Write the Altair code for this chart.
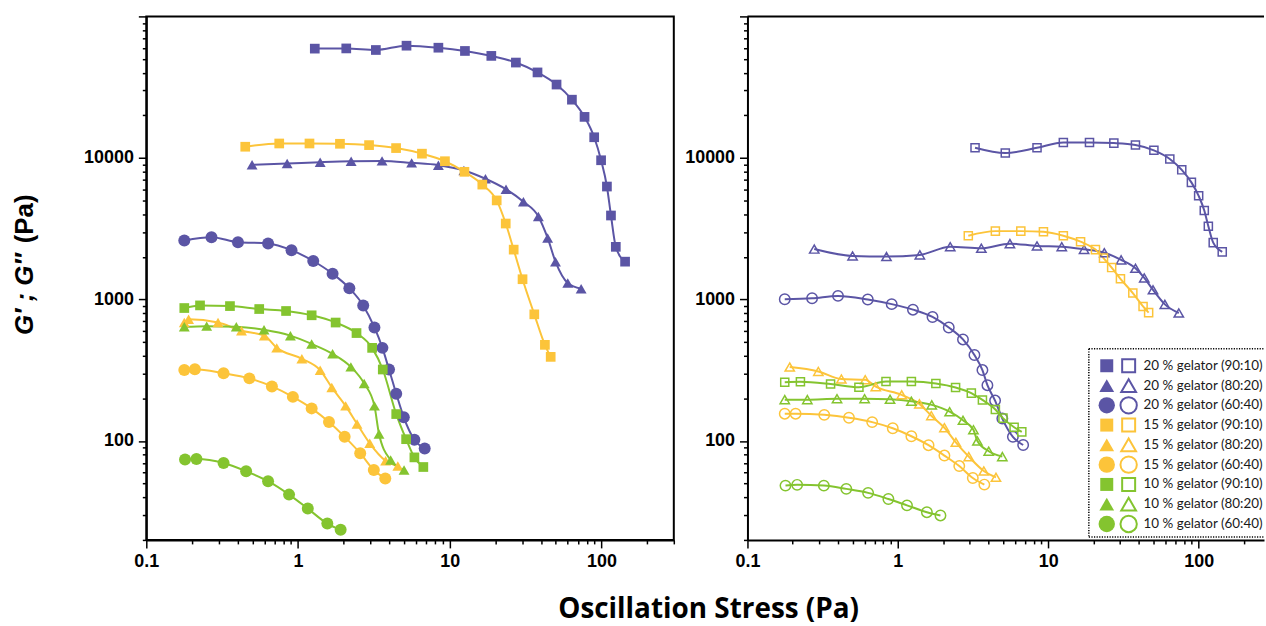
import altair as alt
import pandas as pd

# ---------------- data (stress in Pa, modulus in Pa) ----------------
CONCS = ["20", "15", "10"]
RATIOS = ["90:10", "80:20", "60:40"]
COLORS = ["#5b55a5", "#fcc43a", "#84c42f"]
SHAPES = ["square", "triangle-up", "circle"]

# Left panel (G', filled symbols)
L20_9010_x = [1.29, 2.08, 3.26, 5.19, 8.42, 12.6, 18.8, 27.3, 37.9, 50.6, 63.9, 77.4, 89.6, 99.5, 108.7, 115.6, 124.4, 143.2]
L20_9010_y = [59200, 59400, 57900, 62100, 60100, 57000, 52600, 47200, 40200, 33000, 25800, 19500, 14000, 9630, 6280, 3920, 2355, 1850]
L20_8020_x = [0.498, 0.848, 1.40, 2.24, 3.58, 5.61, 8.42, 12.4, 17.2, 23.5, 30.6, 38.4, 44.2, 49.8, 60.0, 73.5]
L20_8020_y = [8940, 9130, 9330, 9480, 9530, 9230, 8890, 8160, 7130, 6010, 4910, 3860, 2720, 1850, 1306, 1190]
L20_6040_x = [0.178, 0.269, 0.402, 0.635, 0.906, 1.26, 1.69, 2.18, 2.69, 3.19, 3.60, 3.98, 4.44, 4.98, 5.85, 6.84]
L20_6040_y = [2610, 2750, 2540, 2490, 2230, 1870, 1520, 1200, 908, 634, 455, 320, 216, 147, 102, 88.5]
L15_9010_x = [0.449, 0.752, 1.19, 1.89, 2.94, 4.43, 6.56, 9.30, 12.5, 16.4, 20.4, 23.4, 26.4, 30.2, 36.1, 42.4, 46.3]
L15_9010_y = [12000, 12650, 12650, 12590, 12320, 11740, 10720, 9480, 7980, 6480, 5010, 3440, 2250, 1390, 785, 478, 393]
L15_8020_x = [0.178, 0.19, 0.297, 0.424, 0.60, 0.724, 1.06, 1.40, 1.67, 2.06, 2.45, 2.97, 3.78, 4.55]
L15_8020_y = [687, 724, 687, 601, 555, 455, 381, 316, 239, 177, 132, 96.3, 72.5, 66.5]
L15_6040_x = [0.178, 0.209, 0.323, 0.478, 0.673, 0.925, 1.23, 1.60, 2.03, 2.57, 3.16, 3.76]
L15_6040_y = [318, 321, 301, 277, 243, 205, 170, 136, 107, 82, 62.4, 54.3]
L10_9010_x = [0.178, 0.226, 0.356, 0.555, 0.834, 1.23, 1.77, 2.43, 3.08, 3.62, 4.44, 5.16, 5.85, 6.70]
L10_9010_y = [870, 908, 898, 856, 829, 773, 687, 579, 455, 320, 155, 103, 76.6, 65.5]
L10_8020_x = [0.178, 0.25, 0.392, 0.597, 0.891, 1.23, 1.69, 2.23, 2.73, 3.19, 3.42, 4.08, 5.0]
L10_8020_y = [641, 648, 641, 611, 555, 485, 413, 334, 255, 177, 112, 73.3, 62.4]
L10_6040_x = [0.180, 0.214, 0.323, 0.455, 0.635, 0.873, 1.16, 1.56, 1.91]
L10_6040_y = [74.1, 74.5, 69.9, 61.1, 52.0, 41.8, 33.3, 26.1, 23.6]

# Right panel (G'', open symbols)
R20_9010_x = [3.26, 5.18, 8.42, 12.6, 18.8, 27.3, 38.0, 50.4, 64.3, 77.2, 89.5, 100, 109, 116, 125, 143.5]
R20_9010_y = [11800, 10830, 11800, 12870, 12870, 12730, 12330, 11320, 9840, 8240, 6720, 5400, 4250, 3290, 2520, 2170]
R20_8020_x = [0.278, 0.50, 0.84, 1.40, 2.23, 3.59, 5.56, 8.42, 12.3, 17.3, 23.6, 30.5, 38.0, 43.5, 49.7, 59.6, 73.8]
R20_8020_y = [2270, 2030, 2010, 2065, 2360, 2300, 2480, 2390, 2360, 2260, 2140, 1905, 1660, 1420, 1170, 923, 802]
R20_6040_x = [0.177, 0.269, 0.40, 0.631, 0.91, 1.26, 1.70, 2.18, 2.71, 3.23, 3.65, 3.94, 4.43, 4.95, 5.82, 6.81]
R20_6040_y = [1004, 1020, 1060, 1000, 927, 847, 752, 634, 522, 405, 317, 248, 193, 144, 107, 93.7]
R15_9010_x = [2.94, 4.45, 6.57, 9.29, 12.6, 16.4, 20.6, 23.3, 26.4, 30.2, 36.5, 42.7, 46.5]
R15_9010_y = [2820, 3040, 3040, 3010, 2820, 2560, 2250, 1960, 1680, 1400, 1110, 893, 807]
R15_8020_x = [0.191, 0.296, 0.421, 0.607, 0.713, 1.06, 1.39, 1.67, 2.04, 2.43, 2.96, 3.73, 4.49]
R15_8020_y = [333, 310, 274, 271, 242, 212, 183, 151, 124, 97.9, 77.6, 61.4, 55.4]
R15_6040_x = [0.177, 0.209, 0.324, 0.473, 0.675, 0.925, 1.23, 1.60, 2.04, 2.56, 3.15, 3.76]
R15_6040_y = [156, 156, 153, 146, 136, 123, 108, 93.4, 78.9, 66.5, 54.8, 49.2]
R10_9010_x = [0.177, 0.225, 0.357, 0.551, 0.834, 1.23, 1.79, 2.42, 3.08, 3.65, 4.45, 5.0, 5.93, 6.67]
R10_9010_y = [260, 262, 253, 240, 263, 263, 255, 239, 218, 195, 167, 145, 125, 116]
R10_8020_x = [0.177, 0.25, 0.394, 0.601, 0.887, 1.23, 1.68, 2.21, 2.71, 3.18, 3.38, 4.02, 4.95]
R10_8020_y = [196, 196, 199, 199, 197, 191, 180, 161, 140, 120, 100, 84.7, 77.6]
R10_6040_x = [0.179, 0.214, 0.322, 0.454, 0.634, 0.865, 1.15, 1.56, 1.92]
R10_6040_y = [48.4, 49.0, 48.4, 45.9, 43.0, 38.9, 35.1, 31.4, 29.8]

X_TICKS_L = [0.1, 0.2, 0.3, 0.4, 0.5, 0.6, 0.7, 0.8, 0.9, 1, 2, 3, 4, 5, 6, 7, 8, 9,
             10, 20, 30, 40, 50, 60, 70, 80, 90, 100, 200, 300]
X_TICKS_R = [0.1, 0.2, 0.3, 0.4, 0.5, 0.6, 0.7, 0.8, 0.9, 1, 2, 3, 4, 5, 6, 7, 8, 9,
             10, 20, 30, 40, 50, 60, 70, 80, 90, 100, 200]
Y_TICKS = [20, 30, 40, 50, 60, 70, 80, 90, 100, 200, 300, 400, 500, 600, 700, 800, 900,
           1000, 2000, 3000, 4000, 5000, 6000, 7000, 8000, 9000,
           10000, 20000, 30000, 40000, 50000, 60000, 70000, 80000, 90000, 100000]

LEFT = {
    ("20", "90:10"): (L20_9010_x, L20_9010_y), ("20", "80:20"): (L20_8020_x, L20_8020_y),
    ("20", "60:40"): (L20_6040_x, L20_6040_y), ("15", "90:10"): (L15_9010_x, L15_9010_y),
    ("15", "80:20"): (L15_8020_x, L15_8020_y), ("15", "60:40"): (L15_6040_x, L15_6040_y),
    ("10", "90:10"): (L10_9010_x, L10_9010_y), ("10", "80:20"): (L10_8020_x, L10_8020_y),
    ("10", "60:40"): (L10_6040_x, L10_6040_y),
}
RIGHT = {
    ("20", "90:10"): (R20_9010_x, R20_9010_y), ("20", "80:20"): (R20_8020_x, R20_8020_y),
    ("20", "60:40"): (R20_6040_x, R20_6040_y), ("15", "90:10"): (R15_9010_x, R15_9010_y),
    ("15", "80:20"): (R15_8020_x, R15_8020_y), ("15", "60:40"): (R15_6040_x, R15_6040_y),
    ("10", "90:10"): (R10_9010_x, R10_9010_y), ("10", "80:20"): (R10_8020_x, R10_8020_y),
    ("10", "60:40"): (R10_6040_x, R10_6040_y),
}


def to_df(d):
    rows = []
    for (c, r), (xs, ys) in d.items():
        for xv, yv in zip(xs, ys):
            rows.append({"x": xv, "y": yv, "conc": c, "ratio": r,
                         "series": f"{c} % gelator ({r})"})
    return pd.DataFrame(rows)


df_l = to_df(LEFT)
df_r = to_df(RIGHT)
leg = pd.DataFrame([{"idx": i * 3 + j, "conc": c, "ratio": r,
                     "label": f"{c} % gelator ({r})"}
                    for i, c in enumerate(CONCS) for j, r in enumerate(RATIOS)])
one = pd.DataFrame({"k": [0]})

# ---------------- layout constants ----------------
LW, RW, H = 530, 519, 526
MAJ = "abs(log(datum.value)/LN10 - round(log(datum.value)/LN10)) < 0.001"
TS = {"condition": {"test": MAJ, "value": 8}, "value": 4}


def x_enc(ticks, dmax):
    return alt.X("x:Q", scale=alt.Scale(type="log", domain=[0.1, dmax], nice=False),
                 axis=alt.Axis(values=ticks, format="~g", title=None,
                               labelExpr=f"({MAJ}) ? datum.label : ''",
                               tickSize=TS, labelFlush=False, labelOverlap=False))


Y_ENC = alt.Y("y:Q", scale=alt.Scale(type="log", domain=[20, 100000], nice=False),
              axis=alt.Axis(values=Y_TICKS, format="~g", title=None,
                            labelExpr=f"({MAJ}) && datum.value < 50000 ? datum.label : ''",
                            tickSize=TS, labelFlush=False, labelOverlap=False))
COLOR = alt.Color("conc:N", scale=alt.Scale(domain=CONCS, range=COLORS), legend=None)
SHAPE = alt.Shape("ratio:N", scale=alt.Scale(domain=RATIOS, range=SHAPES), legend=None)


def panel_layers(df, ticks, dmax, filled, sizes):
    X = x_enc(ticks, dmax)
    lines = alt.Chart(df).mark_line(strokeWidth=2, interpolate="monotone").encode(
        x=X, y=Y_ENC, color=COLOR, detail="series:N")
    if filled:
        pm = alt.Chart(df).mark_point(filled=True, opacity=1)
    else:
        pm = alt.Chart(df).mark_point(filled=False, opacity=1, strokeWidth=1.5)
    pts = pm.encode(
        x=X, y=Y_ENC, color=COLOR, shape=SHAPE, detail="series:N",
        size=alt.Size("ratio:N", scale=alt.Scale(domain=RATIOS, range=sizes), legend=None))
    return lines, pts


l_lines, l_pts = panel_layers(df_l, X_TICKS_L, 300, True, [95, 145, 105])
r_lines, r_pts = panel_layers(df_r, X_TICKS_R, 272, False, [66, 110, 78])

# titles (drawn as text in the left panel)
x_title = alt.Chart(one).mark_text(
    text="Oscillation Stress (Pa)", font="Open Sans", fontSize=28, fontWeight="bold",
    align="center", baseline="middle", color="black").encode(
    x=alt.value(565), y=alt.value(596))
y_title_a = alt.Chart(one).mark_text(
    text="G′  ;  G′′", font="Liberation Sans", fontSize=26, fontWeight="bold",
    fontStyle="italic", angle=270, align="right", baseline="middle", color="black").encode(
    x=alt.value(-122), y=alt.value(238))
y_title_b = alt.Chart(one).mark_text(
    text="(Pa)", font="Liberation Sans", fontSize=26, fontWeight="bold",
    angle=270, align="left", baseline="middle", color="black").encode(
    x=alt.value(-122), y=alt.value(228))

left = alt.layer(l_lines, l_pts, x_title, y_title_a, y_title_b).properties(width=LW, height=H)

# legend inside right panel
LY = alt.Y("idx:Q", scale=alt.Scale(domain=[0, 8], range=[351, 510], zero=False, nice=False),
           axis=None)
top_rule = alt.Chart(one).mark_rule(color="black", strokeWidth=2).encode(
    x=alt.value(0), x2=alt.value(RW), y=alt.value(0))
box_fill = alt.Chart(one).mark_rect(fill="white").encode(
    x=alt.value(343), x2=alt.value(RW), y=alt.value(334), y2=alt.value(523))
box_top = alt.Chart(one).mark_rule(color="black", strokeWidth=1.5,
                                   strokeDash=[1.2, 1.4]).encode(
    x=alt.value(343), x2=alt.value(RW), y=alt.value(334))
box_bot = alt.Chart(one).mark_rule(color="black", strokeWidth=1.5,
                                   strokeDash=[1.2, 1.4]).encode(
    x=alt.value(343), x2=alt.value(RW), y=alt.value(523))
box_left = alt.Chart(one).mark_rule(color="black", strokeWidth=1.5,
                                    strokeDash=[1.2, 1.4]).encode(
    x=alt.value(343), y=alt.value(334), y2=alt.value(523))
leg_f = alt.Chart(leg).mark_point(filled=True, opacity=1).encode(
    x=alt.value(361), y=LY, color=COLOR, shape=SHAPE,
    size=alt.Size("ratio:N", scale=alt.Scale(domain=RATIOS, range=[170, 270, 190]), legend=None))
leg_o = alt.Chart(leg).mark_point(filled=False, opacity=1, strokeWidth=2).encode(
    x=alt.value(383), y=LY, color=COLOR, shape=SHAPE,
    size=alt.Size("ratio:N", scale=alt.Scale(domain=RATIOS, range=[115, 190, 130]), legend=None))
leg_t = alt.Chart(leg).mark_text(align="left", baseline="middle", font="Lato",
                                 fontSize=13.5, color="#1a1a1a").encode(
    x=alt.value(398), y=LY, text="label:N")
legend = alt.layer(top_rule, box_fill, box_top, box_bot, box_left, leg_f, leg_o, leg_t)

right = alt.layer(alt.layer(r_lines, r_pts), legend).resolve_scale(
    y="independent", size="independent").properties(
    width=RW, height=H, view=alt.ViewBackground(stroke="transparent"))

chart = alt.hconcat(left, right, spacing=74, bounds="flush").properties(
    padding={"left": 11, "top": 5, "right": 0, "bottom": 0},
    background="white",
).configure_view(stroke="black", strokeWidth=2).configure_axis(
    grid=False, domainColor="black", domainWidth=2, tickColor="black", tickWidth=1.5,
    labelFont="Liberation Sans", labelFontSize=18, labelFontWeight="bold",
    labelColor="black", labelPadding=5,
)

chart.save("out.html", embed_options={"renderer": "svg", "actions": False})
